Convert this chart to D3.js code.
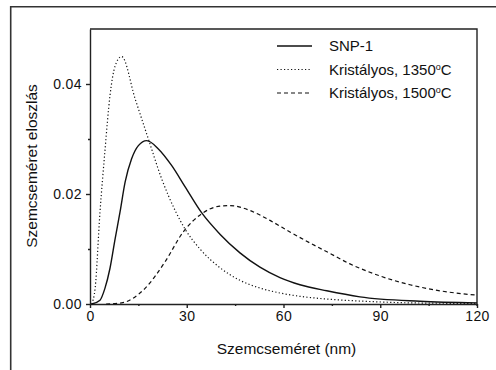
<!DOCTYPE html>
<html>
<head>
<meta charset="utf-8">
<script src="https://cdn.jsdelivr.net/npm/d3@7"></script>
<style>
  body { margin: 0; background: #fff; }
  svg { display: block; font-family: "Liberation Sans", Arial, sans-serif; }
  .axis text { font-size: 14px; fill: #111; letter-spacing: 0.4px; }
  .axis path, .axis line { stroke: #222; stroke-width: 1.4; }
  .axis-title { font-size: 15.5px; fill: #111; }
  .legend text { font-size: 15px; fill: #111; }
</style>
</head>
<body>
<svg id="chart"></svg>
<script>
// size distributions (x in nm, y = frequency)
const snpX = [0.5, 3.1, 4.6, 6.2, 7.8, 9.3, 10.9, 12.9, 15, 17.6, 21.2, 25.3, 29.5, 34.6, 40.3, 46.5, 52.7, 58.9, 65.1, 73.4, 83.7, 102.3, 120];
const snpY = [0, 0.0007, 0.0028, 0.0065, 0.0119, 0.0167, 0.0222, 0.0264, 0.0288, 0.0297, 0.0282, 0.0252, 0.0213, 0.0166, 0.0127, 0.0093, 0.0067, 0.0048, 0.0035, 0.0024, 0.0013, 0.0005, 0.0002];

const k1350X = [0.5, 1.6, 3.1, 4.6, 6.2, 7.8, 9.8, 14, 18.1, 22.2, 26.4, 29.5, 34.1, 40.3, 46.5, 52.7, 58.9, 65.1, 73.4, 85, 100, 120];
const k1350Y = [0, 0.0029, 0.0167, 0.0276, 0.0379, 0.0433, 0.045, 0.0373, 0.030, 0.0228, 0.0170, 0.0136, 0.0100, 0.0066, 0.0043, 0.0029, 0.0020, 0.0014, 0.0009, 0.0005, 0.0002, 0.0001];

const k1500X = [5, 9.8, 17, 23.3, 28.9, 34.6, 40.3, 43.4, 49.6, 55.8, 62, 68.2, 74.4, 80.6, 89.9, 99.2, 108.5, 120];
const k1500Y = [0, 0.0002, 0.0028, 0.0077, 0.0131, 0.0164, 0.0178, 0.0179, 0.0170, 0.0152, 0.0131, 0.0111, 0.0092, 0.0073, 0.0051, 0.0035, 0.0024, 0.0016];

const seriesNames = ['SNP-1', 'Kristályos, 1350', 'Kristályos, 1500'];
const seriesDash = [null, '1.2,2.3', '4,3'];

const xTicks = [0, 30, 60, 90, 120];
const xMinorTicks = [15, 45, 75, 105];
const yTicks = [0, 0.02, 0.04];
const yMinorTicks = [0.01, 0.03];

const width = 496, height = 370;
const margin = { top: 29, right: 19, bottom: 66, left: 90 };
const innerW = width - margin.left - margin.right;
const innerH = height - margin.top - margin.bottom;

const svg = d3.select('#chart').attr('width', width).attr('height', height);

// outer frame (runs off the right and bottom of the picture)
svg.append('path')
  .attr('d', `M10.7,${height + 2}V6.7H${width + 2}`)
  .attr('fill', 'none').attr('stroke', '#333').attr('stroke-width', 1.6);

const chart = svg.append('g').attr('transform', `translate(${margin.left},${margin.top})`);

const xScale = d3.scaleLinear().domain([0, 120]).range([0, innerW]);
const yScale = d3.scaleLinear().domain([0, 0.05]).range([innerH, 0]);

const xAxis = d3.axisBottom(xScale).tickValues(xTicks).tickSize(4).tickSizeOuter(0).tickPadding(3).tickFormat(d3.format('d'));
const yAxis = d3.axisLeft(yScale).tickValues(yTicks).tickSize(4).tickSizeOuter(0).tickPadding(4).tickFormat(d3.format('.2f'));

chart.append('g').attr('class', 'axis x-axis').attr('transform', `translate(0,${innerH})`).call(xAxis);
chart.append('g').attr('class', 'axis y-axis').call(yAxis);

// minor ticks
chart.append('g').attr('class', 'axis').attr('transform', `translate(0,${innerH})`)
  .call(d3.axisBottom(xScale).tickValues(xMinorTicks).tickSize(2).tickSizeOuter(0).tickFormat(''))
  .select('.domain').remove();
chart.append('g').attr('class', 'axis')
  .call(d3.axisLeft(yScale).tickValues(yMinorTicks).tickSize(2).tickSizeOuter(0).tickFormat(''))
  .select('.domain').remove();

// box top and right
chart.append('path')
  .attr('d', `M0,0H${innerW}V${innerH + 2}`)
  .attr('fill', 'none').attr('stroke', '#222').attr('stroke-width', 1.4);

const line = d3.line()
  .x(d => xScale(d[0]))
  .y(d => yScale(d[1]))
  .curve(d3.curveMonotoneX);

const series = [
  d3.zip(snpX, snpY),
  d3.zip(k1350X, k1350Y),
  d3.zip(k1500X, k1500Y)
];

chart.selectAll('.curve').data(series).join('path')
  .attr('class', 'curve')
  .attr('d', line)
  .attr('fill', 'none')
  .attr('stroke', '#111')
  .attr('stroke-width', (d, i) => i === 0 ? 1.4 : 1.2)
  .attr('stroke-dasharray', (d, i) => seriesDash[i]);

// legend
const legend = svg.append('g').attr('class', 'legend');
const rows = legend.selectAll('g').data(seriesNames).join('g')
  .attr('transform', (d, i) => `translate(277,${46 + i * 23.5})`);
rows.append('line')
  .attr('x1', 0).attr('x2', 35).attr('y1', 0).attr('y2', 0)
  .attr('stroke', '#111')
  .attr('stroke-width', (d, i) => i === 0 ? 1.6 : 1.2)
  .attr('stroke-dasharray', (d, i) => seriesDash[i]);
const lt = rows.append('text').attr('x', 52).attr('dy', '0.35em').text(d => d);
lt.filter((d, i) => i > 0).append('tspan').attr('font-size', 9).attr('dy', -5).text('o');
lt.filter((d, i) => i > 0).append('tspan').attr('dy', 5).text('C');

// axis titles
chart.append('text').attr('class', 'axis-title')
  .attr('x', innerW / 2 + 3).attr('y', innerH + 50)
  .attr('text-anchor', 'middle')
  .text('Szemcseméret (nm)');
chart.append('text').attr('class', 'axis-title')
  .attr('transform', 'rotate(-90)')
  .attr('x', -(166 - margin.top)).attr('y', 32 - margin.left)
  .attr('dy', '0.35em')
  .attr('text-anchor', 'middle')
  .text('Szemcseméret eloszlás');
</script>
</body>
</html>
